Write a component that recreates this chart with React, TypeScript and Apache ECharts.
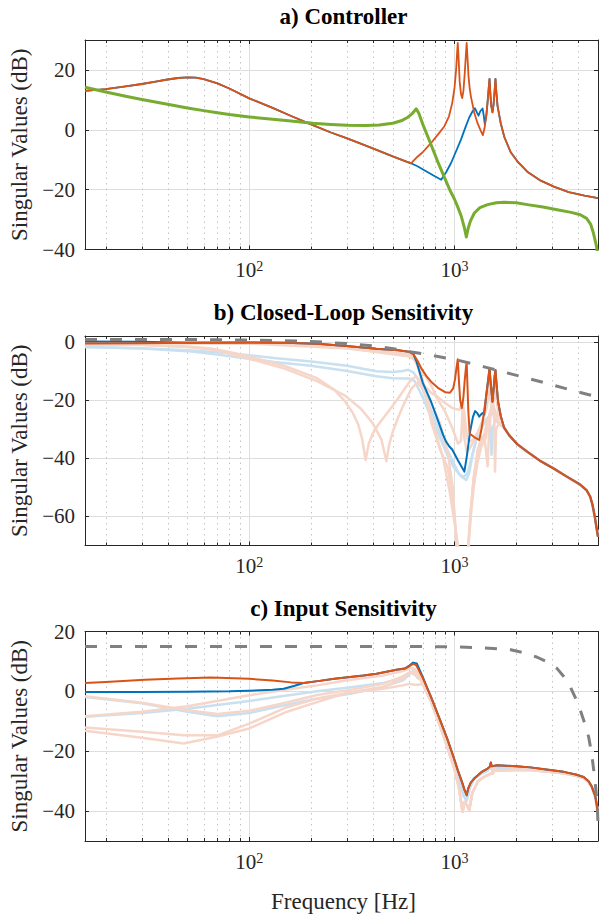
import React, { useEffect, useRef } from "react";
import * as echarts from "echarts";

type Pt = [number, number];

// ---------- axis ranges / ticks ----------
const FREQ_MIN = 15.85;
const FREQ_MAX = 5000;
const minorFreqs = [20, 30, 40, 50, 60, 70, 80, 90, 200, 300, 400, 500, 600, 700, 800, 900, 2000, 3000, 4000];
const yRanges: [number, number][] = [[-40, 30], [-70, 2], [-50, 20]];
const titles = ["a) Controller", "b) Closed-Loop Sensitivity", "c) Input Sensitivity"];
const yLabel = "Singular Values (dB)";
const xLabel = "Frequency [Hz]";

// ---------- a) Controller ----------
const ctrlShared: Pt[] = [[15.85, 13.0], [20, 13.6], [25, 14.5], [30, 15.3], [35, 16.1], [40, 16.8], [45, 17.3], [50, 17.5], [55, 17.4], [60, 16.9], [70, 15.5], [80, 13.8], [100, 10.5], [130, 7.3], [160, 4.6], [200, 1.8], [250, -0.9], [300, -2.9], [400, -6.2], [500, -8.9], [614, -11.2]];
const ctrlOrangeHigh: Pt[] = [[660, -9.0], [700, -7.5], [769, -4.4], [830, -1.6], [893, 1.2], [940, 4.5], [975, 9], [1000, 14], [1018, 20], [1030, 26], [1037, 29], [1045, 25], [1060, 16], [1075, 12], [1090, 10.6], [1105, 13], [1122, 19], [1137, 25.5], [1146, 29], [1155, 25], [1170, 18], [1185, 14], [1202, 11.1], [1250, 5.5], [1295, 2.2], [1340, -0.2], [1374, -1.8], [1400, 0.5], [1430, 5], [1450, 9.5], [1468, 14], [1481, 17], [1495, 12], [1510, 8], [1531, 5.8], [1550, 8.5], [1568, 13], [1583, 17], [1597, 13], [1620, 8], [1679, 2.2], [1750, -2.5], [1878, -7.5], [2050, -11], [2262, -14], [2600, -16.8], [3047, -19], [3600, -20.8], [4300, -22], [5000, -22.8]];
const ctrlBlueHigh: Pt[] = [[660, -12.2], [720, -13.7], [790, -15.3], [861, -16.7], [910, -14.2], [962, -11.1], [1020, -7], [1075, -3.3], [1130, 0.8], [1181, 4.2], [1225, 6.2], [1257, 7.2], [1285, 5.8], [1309, 4.7], [1335, 6.2], [1370, 7.1], [1390, 4.5], [1405, 1.8]];
const ctrlGreen: Pt[] = [[15.85, 14.2], [20, 12.6], [25, 11.2], [30, 10.1], [40, 8.5], [50, 7.3], [60, 6.4], [70, 5.7], [80, 5.1], [100, 4.3], [130, 3.5], [160, 2.9], [204, 2.2], [250, 1.8], [300, 1.5], [371, 1.4], [430, 1.6], [500, 2.2], [550, 3.0], [593, 4.2], [620, 5.3], [651, 7.0], [670, 5.5], [700, 1.9], [769, -5.0], [830, -10.8], [893, -15.9], [950, -20.2], [1000, -23.2], [1040, -26], [1080, -29], [1115, -32.5], [1142, -35.8], [1165, -33], [1195, -30.5], [1249, -27.8], [1330, -26], [1449, -25], [1600, -24.4], [1744, -24.2], [2000, -24.4], [2262, -25], [2700, -25.8], [3162, -26.7], [3700, -27.6], [4100, -28.4], [4400, -29.6], [4600, -31.5], [4750, -34.5], [4900, -38.5], [5000, -42]];

// ---------- b) Closed-loop sensitivity ----------
const boundB: Pt[] = [[15.85, 0.8], [50, 0.8], [100, 0.6], [150, 0.4], [214, 0], [297, -0.6], [416, -1.5], [540, -2.7], [618, -3.5], [769, -4.6], [1037, -6.3], [1395, -8.6], [1878, -11], [2178, -12.2], [3000, -14.8], [3700, -16.6], [4416, -18], [5000, -19]];
const orangeBLow: Pt[] = [[15.85, -0.6], [30, -0.5], [50, -0.3]];
const blueBLow: Pt[] = [[15.85, 0.1], [30, 0], [50, -0.3]];
const sharedB: Pt[] = [[100, -0.2], [150, -0.3], [214, -0.7], [297, -1.4], [416, -2.4], [531, -2.9], [600, -3.4], [630, -4.2]];
const orangeBHigh: Pt[] = [[660, -6.5], [689, -9.1], [730, -11.8], [769, -13.7], [830, -15.8], [900, -17.3], [950, -17.5], [985, -16], [1005, -13], [1022, -9], [1037, -6], [1050, -13], [1065, -20], [1085, -22.8], [1105, -19], [1122, -13], [1138, -8.5], [1146, -7], [1155, -14], [1168, -24], [1185, -31.5], [1250, -32.8], [1319, -33.7], [1350, -30.5], [1390, -24.5], [1430, -18], [1462, -12.5], [1481, -9], [1500, -14], [1531, -20.6], [1555, -15], [1570, -11.5], [1583, -9.7], [1600, -14], [1630, -20.5], [1680, -25.5], [1744, -29.5]];
const blueBHigh: Pt[] = [[651, -6.5], [700, -14], [769, -20.6], [830, -27], [880, -32], [910, -34.3], [940, -35.8], [976, -37.1], [1040, -40.8], [1117, -44.6], [1150, -39], [1190, -31], [1230, -25.8], [1260, -23.8], [1290, -24.5], [1319, -25.7], [1345, -25], [1370, -24.5], [1395, -25]];
const tailB: Pt[] = [[1850, -32.2], [2023, -35.2], [2262, -37.8], [2600, -40.8], [3047, -43.6], [3500, -46.2], [4099, -49.1], [4400, -51], [4580, -53.2], [4700, -56], [4820, -60], [4920, -64], [5000, -67]];
const lightBlueB1: Pt[] = [[15.85, -1.8], [30, -2.2], [50, -2.9], [70, -3.6], [100, -4.6], [132, -5.6], [200, -6.8], [300, -8.2], [416, -10.1], [500, -10.4], [560, -10], [595, -9.6], [630, -10.5], [660, -12.5], [700, -16.5], [769, -23.5], [830, -29.5], [900, -35.5], [980, -41], [1056, -45.7], [1110, -46.3], [1160, -45], [1220, -39], [1295, -32], [1395, -27.4], [1460, -26], [1503, -25.1], [1531, -22], [1560, -26], [1620, -27.2], [1700, -28.9], [1744, -29.5]];
const lightBlueB2: Pt[] = [[15.85, -1.8], [30, -2.3], [50, -3.2], [70, -4.4], [100, -5.8], [132, -6.9], [200, -8.2], [300, -10], [416, -11.8], [500, -12.5], [600, -12.6], [640, -13.5], [700, -19], [769, -26], [850, -33], [930, -39.5], [1000, -43.5], [1080, -46.3], [1140, -47.5], [1180, -45], [1230, -38], [1300, -31.5], [1380, -28.5], [1440, -27.5], [1480, -25], [1500, -31], [1515, -38.8], [1530, -30], [1580, -27], [1650, -28.2], [1744, -29.5]];
const lightOrangeB1: Pt[] = [[15.85, -0.8], [30, -1], [50, -1.6], [65, -2.3], [80, -3.5], [100, -5], [150, -8.4], [214, -12.5], [260, -16.5], [293, -20.5], [320, -24.5], [340, -28.5], [355, -33.5], [369, -40.6], [382, -35], [400, -31.5], [425, -28.5], [475, -24], [531, -19.5], [580, -15.5], [618, -12.8], [650, -12], [700, -14.5], [769, -17.5], [832, -19], [900, -21], [980, -22.8], [1056, -23.4], [1090, -21], [1115, -24], [1150, -33], [1180, -34.3], [1240, -33.5], [1300, -31], [1380, -27], [1430, -21.7], [1470, -18], [1500, -20], [1531, -22], [1560, -19], [1590, -18], [1640, -25], [1744, -29.5]];
const lightOrangeB2: Pt[] = [[15.85, -0.9], [30, -1.1], [50, -1.8], [65, -2.6], [80, -4], [100, -5.8], [150, -9.3], [214, -13.5], [293, -18.5], [350, -23], [400, -28], [440, -33.5], [466, -41], [480, -35.5], [500, -31], [531, -26], [570, -21], [618, -16], [660, -14], [700, -16], [769, -21], [850, -28], [927, -38], [980, -50], [1016, -66.3], [1030, -75], [1150, -75], [1167, -70], [1200, -58], [1240, -46.8], [1300, -37], [1395, -32], [1450, -27], [1503, -24], [1531, -21], [1560, -26], [1650, -28], [1744, -29.5]];
const lightOrangeB3: Pt[] = [[15.85, -0.3], [50, -0.3], [100, -0.5], [214, -1], [297, -2], [416, -3.5], [531, -4.5], [600, -5], [640, -6.2], [689, -11], [730, -19], [769, -27.4], [850, -37], [927, -43.4], [970, -52], [1000, -60], [1016, -66.3], [1030, -75], [1130, -75], [1167, -70], [1200, -58], [1240, -46.8], [1300, -37], [1350, -33], [1395, -32], [1425, -38], [1450, -42.8], [1470, -32], [1503, -24], [1531, -20], [1560, -25], [1575, -44.6], [1595, -30], [1650, -28], [1744, -29.5]];
const lightOrangeB4: Pt[] = [[15.85, -0.5], [50, -0.4], [100, -0.5], [214, -0.9], [297, -1.8], [416, -3], [531, -3.8], [600, -4.2], [640, -5.5], [689, -9.5], [769, -15], [832, -20], [900, -24], [980, -30], [1040, -35], [1075, -34], [1100, -20.5], [1115, -33], [1150, -38], [1200, -36], [1260, -33], [1320, -30], [1390, -26], [1440, -22], [1481, -13], [1500, -17], [1531, -22], [1560, -16], [1583, -13.5], [1610, -20], [1680, -26], [1744, -29.5]];
const lightOrangeB5: Pt[] = [[15.85, -0.4], [100, -0.6], [300, -2.3], [531, -4.3], [620, -5], [660, -8], [720, -18], [800, -30], [880, -40], [950, -52], [1000, -62], [1040, -70], [1070, -80], [1110, -90], [1140, -80], [1170, -70], [1200, -60], [1240, -50], [1290, -42], [1350, -36], [1420, -33], [1480, -25], [1531, -21], [1580, -24], [1650, -28], [1744, -29.5]];

// ---------- c) Input sensitivity ----------
const boundC: Pt[] = [[15.85, 15], [500, 15], [1000, 14.9], [1400, 14.5], [1878, 13.9], [2200, 12.8], [2529, 11.4], [2850, 9.7], [3162, 7.6], [3450, 4.5], [3670, 1.4], [3900, -2.5], [4099, -6.3], [4300, -10.5], [4500, -15.2], [4650, -20.5], [4766, -26.3], [4870, -32], [4950, -37.4], [5000, -44]];
const orangeCLow: Pt[] = [[15.85, 2.8], [20, 3.1], [31, 3.9], [45, 4.3], [65, 4.6], [100, 4.2], [130, 3.6], [160, 3.0], [184, 2.8]];
const blueCLow: Pt[] = [[15.85, -0.2], [30, -0.2], [50, -0.1], [80, 0], [100, 0.2], [130, 0.5], [147, 0.9], [165, 1.8], [184, 2.8]];
const sharedC: Pt[] = [[220, 3.5], [260, 4.2], [310, 4.8], [360, 5.3], [417, 5.9], [480, 6.7], [521, 7.2], [572, 7.6], [600, 8.3], [628, 9.2], [650, 8.8], [700, 4.5], [769, -1.9], [850, -9.5], [927, -16.3], [990, -22], [1037, -26.3], [1090, -30.5], [1120, -33], [1146, -34.7], [1165, -32.5], [1200, -30.5], [1249, -29.1], [1350, -27], [1449, -25.8], [1485, -25.2], [1503, -23.8], [1520, -25], [1618, -24.7], [2000, -25], [2347, -25.4], [2800, -26.1], [3404, -26.9], [3900, -27.8], [4256, -28.6], [4500, -30], [4668, -31.9], [4850, -35], [5000, -40.5]];
const blueCPeak: Pt[] = [[600, 8.5], [628, 9.6], [655, 9.3], [700, 4.8]];
const tailC: Pt[] = [[700, 2.5], [769, -3.5], [850, -11.5], [927, -19], [1000, -26], [1050, -32], [1094, -40.2], [1120, -37], [1150, -38], [1180, -39.7], [1220, -34], [1300, -30], [1400, -28.5], [1500, -27.5], [1540, -27.4], [1560, -25.5], [1600, -26.5], [2000, -26.2], [2347, -26.3], [2800, -26.8], [3404, -27.4], [3900, -28.2], [4256, -29], [4500, -30.3], [4668, -32.1], [4850, -35.2], [5000, -40.8]];
const tailC2: Pt[] = [[700, 3.5], [769, -2.5], [850, -10.5], [927, -17.5], [1000, -24.5], [1060, -30], [1110, -35], [1146, -36.5], [1190, -32], [1250, -29], [1350, -27.5], [1449, -26.5], [1500, -25], [1530, -26.5], [1618, -25.5], [2000, -25.7], [2347, -26], [2800, -26.6], [3404, -27.3], [3900, -28.1], [4256, -28.9], [4500, -30.2], [4668, -32], [4850, -35], [5000, -40.6]];
const lightBlueC1: Pt[] = [[15.85, -1.9], [30, -4], [50, -6.8], [70, -8.3], [100, -7.2], [147, -4.7], [200, -2.8], [310, -0.8], [450, 1.5], [561, 3.7], [600, 5.5], [625, 6.8], [660, 4.5]];
const lightBlueC2: Pt[] = [[15.85, -8.5], [30, -7.2], [50, -5.8], [100, -3.2], [150, -1.5], [214, 0], [300, 1.2], [450, 2.8], [561, 4.5], [610, 6.2], [640, 6], [680, 4.5]];
const lightOrangeC1: Pt[] = [[15.85, -8.3], [30, -6.8], [50, -5], [100, -1.3], [150, 0.5], [214, 2], [300, 3.7], [449, 5.3], [560, 6.8], [610, 7.8], [640, 7.5], [680, 5]];
const lightOrangeC2: Pt[] = [[15.85, -1.6], [30, -3.8], [50, -6.3], [70, -7.6], [100, -6.5], [150, -3.8], [214, -1.2], [310, 0.5], [450, 2.5], [560, 5], [610, 6.5], [640, 5.5], [680, 4]];
const lightOrangeC3: Pt[] = [[15.85, -12.1], [30, -13.5], [48, -14.7], [70, -14.7], [100, -10.8], [150, -5.5], [214, -2.4], [300, -0.5], [449, 0.9], [560, 2], [603, 2.5], [640, 2.2], [670, 2.2]];
const lightOrangeC4: Pt[] = [[15.85, -13.2], [30, -15.5], [48, -17.4], [70, -15.1], [100, -12.4], [150, -7], [214, -3.6], [300, -0.5], [449, 1.5], [560, 4], [610, 6.5], [640, 6.5], [680, 4.5]];

// ---------- styling ----------
const BLUE = "#0072BD";
const ORANGE = "#D95319";
const GREEN = "#77AC30";
const GRAY = "#808080";
const LBLUE = "#c9e0f0";
const LORANGE = "#f6d6c9";
const AXIS = "#262626";
const FONT = "Liberation Serif";

const GRID_LEFT = 85;
const GRID_W = 517;
const GRID_H = 209.5;
const GRID_TOPS = [40, 336, 631.5];

function lineSeries(data: Pt[], gi: number, color: string, width: number, z: number, dashed = false) {
  return {
    type: "line",
    xAxisIndex: gi * 2,
    yAxisIndex: gi * 2,
    data,
    showSymbol: false,
    symbol: "none",
    silent: true,
    clip: true,
    z,
    lineStyle: { color, width, type: dashed ? [12, 13] : "solid", join: "round" },
  };
}

function minorGridSeries(gi: number) {
  return {
    type: "custom",
    xAxisIndex: gi * 2,
    yAxisIndex: gi * 2,
    data: minorFreqs.map((f) => [f, 0]),
    silent: true,
    z: 1,
    clip: false,
    renderItem: (params: any, api: any) => {
      const x = Math.round(api.coord([api.value(0), 0])[0]) + 0.5;
      const cs = params.coordSys;
      const y0 = cs.y;
      const y1 = cs.y + cs.height;
      return {
        type: "group",
        children: [
          { type: "line", shape: { x1: x, y1: y0, x2: x, y2: y1 }, style: { stroke: "#c4c4c4", lineWidth: 1, lineDash: [1.5, 4] } },
          { type: "line", shape: { x1: x, y1: y1, x2: x, y2: y1 - 3 }, style: { stroke: AXIS, lineWidth: 1 } },
          { type: "line", shape: { x1: x, y1: y0, x2: x, y2: y0 + 3 }, style: { stroke: AXIS, lineWidth: 1 } },
        ],
      };
    },
  };
}

function xLabelFormatter(v: number) {
  const l = Math.log10(v);
  const e = Math.round(l);
  if (Math.abs(l - e) > 1e-6) return "";
  return "10{sup|" + e + "}";
}

function yLabelFormatter(v: number) {
  if (Math.abs(v % 20) > 1e-6) return "";
  return v < 0 ? "\u2212" + Math.abs(v) : String(v);
}

export default function App() {
  const ref = useRef<HTMLDivElement>(null);
  useEffect(() => {
    if (!ref.current) return;
    const chart = echarts.init(ref.current, null, { renderer: "svg" });

    const grids = GRID_TOPS.map((top) => ({ left: GRID_LEFT, top, width: GRID_W, height: GRID_H }));
    const xAxes: any[] = [];
    const yAxes: any[] = [];
    GRID_TOPS.forEach((_, gi) => {
      const common = {
        type: "log",
        logBase: 10,
        gridIndex: gi,
        min: FREQ_MIN,
        max: FREQ_MAX,
        axisLine: { show: true, onZero: false, lineStyle: { color: AXIS, width: 1 } },
        axisTick: { show: true, inside: true, length: 4, lineStyle: { color: AXIS, width: 1 } },
      };
      xAxes.push({
        ...common,
        position: "bottom",
        axisLabel: {
          show: true,
          margin: 10,
          color: AXIS,
          fontFamily: FONT,
          fontSize: 21,
          formatter: xLabelFormatter,
          rich: { sup: { fontSize: 14, fontFamily: FONT, color: AXIS, verticalAlign: "top" } },
        },
        splitLine: { show: true, lineStyle: { color: "#dedede", width: 1 } },
      });
      xAxes.push({ ...common, position: "top", axisLabel: { show: false }, splitLine: { show: false } });
      const [ymin, ymax] = yRanges[gi];
      const ycommon = {
        type: "value",
        gridIndex: gi,
        min: ymin,
        max: ymax,
        splitNumber: 4,
        axisLine: { show: true, onZero: false, lineStyle: { color: AXIS, width: 1 } },
        axisTick: { show: true, inside: true, length: 4, lineStyle: { color: AXIS, width: 1 } },
      };
      yAxes.push({
        ...ycommon,
        position: "left",
        axisLabel: { show: true, margin: 10, color: AXIS, fontFamily: FONT, fontSize: 21, formatter: yLabelFormatter },
        splitLine: { show: true, lineStyle: { color: "#dedede", width: 1 } },
      });
      yAxes.push({ ...ycommon, position: "right", axisLabel: { show: false }, splitLine: { show: false } });
    });

    const series: any[] = [];
    GRID_TOPS.forEach((_, gi) => series.push(minorGridSeries(gi)));

    // a) Controller
    series.push(lineSeries([...ctrlShared, ...ctrlBlueHigh, ...ctrlOrangeHigh.filter((p) => p[0] > 1410)], 0, BLUE, 1.8, 3));
    series.push(lineSeries([...ctrlShared, ...ctrlOrangeHigh], 0, ORANGE, 1.8, 4));
    series.push(lineSeries(ctrlGreen, 0, GREEN, 3, 5));

    // b) Closed-loop sensitivity
    [lightBlueB1, lightBlueB2].forEach((d) => series.push(lineSeries([...d, ...tailB], 1, LBLUE, 2.5, 2)));
    [lightOrangeB1, lightOrangeB2, lightOrangeB3, lightOrangeB4, lightOrangeB5].forEach((d) => series.push(lineSeries([...d, ...tailB], 1, LORANGE, 2.5, 2)));
    series.push(lineSeries([...blueBLow, ...sharedB, ...blueBHigh, ...orangeBHigh.filter((p) => p[0] > 1400), ...tailB], 1, BLUE, 2, 3));
    series.push(lineSeries([...orangeBLow, ...sharedB, ...orangeBHigh, ...tailB], 1, ORANGE, 2, 4));
    series.push(lineSeries(boundB, 1, GRAY, 3, 5, true));

    // c) Input sensitivity
    [lightBlueC1, lightBlueC2].forEach((d) => series.push(lineSeries([...d, ...tailC2], 2, LBLUE, 2.5, 2)));
    [lightOrangeC1, lightOrangeC2, lightOrangeC3, lightOrangeC4].forEach((d) => series.push(lineSeries([...d, ...tailC], 2, LORANGE, 2.5, 2)));
    series.push(lineSeries([...blueCLow, ...sharedC.filter((p) => p[0] < 600), ...blueCPeak, ...sharedC.filter((p) => p[0] > 700)], 2, BLUE, 2, 3));
    series.push(lineSeries([...orangeCLow, ...sharedC], 2, ORANGE, 2, 4));
    series.push(lineSeries(boundC, 2, GRAY, 3, 5, true));

    const cx = GRID_LEFT + GRID_W / 2;
    const titleYs = [16, 312, 608];
    const graphics: any[] = [];
    titles.forEach((t, i) => {
      graphics.push({
        type: "text",
        x: cx,
        y: titleYs[i],
        style: { text: t, fill: "#000", font: "bold 23px " + FONT, align: "center", verticalAlign: "middle" },
      });
      graphics.push({
        type: "text",
        x: 8,
        y: GRID_TOPS[i] + GRID_H / 2,
        rotation: Math.PI / 2,
        style: { text: yLabel, fill: AXIS, font: "23px " + FONT, align: "center", verticalAlign: "top" },
      });
    });
    graphics.push({
      type: "text",
      x: cx,
      y: 901,
      style: { text: xLabel, fill: AXIS, font: "23px " + FONT, align: "center", verticalAlign: "middle" },
    });

    chart.setOption({
      animation: false,
      grid: grids,
      xAxis: xAxes,
      yAxis: yAxes,
      series,
      graphic: graphics,
    });
    return () => chart.dispose();
  }, []);
  return <div ref={ref} style={{ position: "absolute", left: 0, top: 0, width: 601, height: 916 }} />;
}
